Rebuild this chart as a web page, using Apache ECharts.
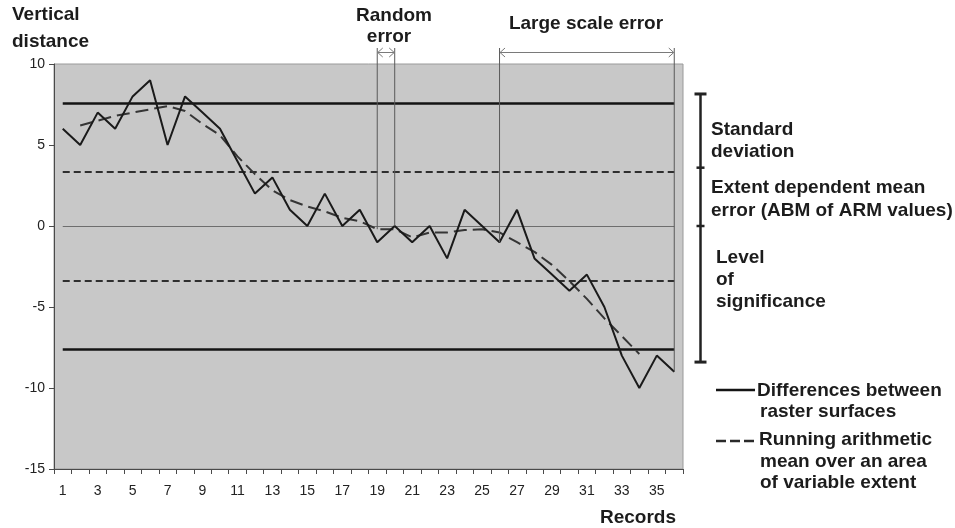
<!DOCTYPE html>
<html>
<head>
<meta charset="utf-8">
<script src="https://cdn.jsdelivr.net/npm/echarts@6/dist/echarts.min.js"></script>
<style>
  html, body { margin: 0; padding: 0; background: #ffffff; }
  #chart { width: 955px; height: 528px; }
</style>
</head>
<body>
<div id="chart"></div>
<script>
// Record numbers along the horizontal axis
const records = ['1','2','3','4','5','6','7','8','9','10','11','12','13','14','15','16','17','18',
                 '19','20','21','22','23','24','25','26','27','28','29','30','31','32','33','34','35','36'];

// Differences between raster surfaces (vertical distance per record)
const differences = [6, 5, 7, 6, 8, 9, 5, 8, 7, 6, 4, 2, 3, 1, 0, 2, 0, 1,
                     -1, 0, -1, 0, -2, 1, 0, -1, 1, -2, -3, -4, -3, -5, -8, -10, -8, -9];

// Running arithmetic mean over an area of variable extent
const runningMean = [null, 6.2, 6.5, 6.8, 7.0, 7.2, 7.4, 7.1, 6.3, 5.6, 4.3, 3.2, 2.2, 1.6, 1.2, 0.9, 0.5, 0.3,
                     -0.2, -0.2, -0.7, -0.4, -0.4, -0.25, -0.2, -0.4, -1.0, -1.6, -2.4, -3.4, -4.5, -5.7, -6.8, -7.9, null, null];

// Horizontal reference levels
const standardDeviationLevels = [7.6, -7.6];
const meanErrorLevels = [3.35, -3.35];
const zeroLevel = 0;

// Vertical axis range
const yMin = -15, yMax = 10, yStep = 5;

// Error spans marked above the plot (record numbers)
const randomErrorRecords = ['19', '20'];
const largeScaleRecords = ['26', '36'];

// Bracket on the right: end values and intermediate ticks
const bracketEnds = [8.15, -8.4];
const bracketTicks = [3.6, 0];

const FONT = '"Liberation Sans", Arial, Helvetica, sans-serif';
const BOLD = 'bold 19px ' + FONT;
const TEXT_COLOR = '#1c1c1c';

const chart = echarts.init(document.getElementById('chart'), null, { renderer: 'canvas' });

function levelLine(value, style) {
  return [
    { coord: [records[0], value], lineStyle: style },
    { coord: [records[records.length - 1], value] }
  ];
}

const solidRef = { color: '#141414', width: 2.5, type: 'solid' };
const dashedRef = { color: '#2e2e2e', width: 2, type: [7, 4] };
const zeroRef = { color: '#6e6e6e', width: 1, type: 'solid' };

chart.setOption({
  animation: false,
  backgroundColor: '#ffffff',
  grid: {
    left: 54, top: 64, width: 629, height: 405,
    show: true, backgroundColor: '#c8c8c8', borderColor: '#9a9a9a', borderWidth: 1
  },
  xAxis: {
    type: 'category',
    data: records,
    boundaryGap: true,
    axisLine: { show: true, onZero: false, lineStyle: { color: '#4a4a4a', width: 1 } },
    axisTick: { show: true, interval: 0, length: 5, lineStyle: { color: '#4a4a4a' } },
    axisLabel: { interval: 1, fontSize: 14, color: '#222', margin: 15, fontFamily: FONT },
    splitLine: { show: false }
  },
  yAxis: {
    type: 'value',
    min: yMin, max: yMax, interval: yStep,
    axisLine: { show: true, lineStyle: { color: '#4a4a4a', width: 1 } },
    axisTick: { show: true, length: 5, lineStyle: { color: '#4a4a4a' } },
    axisLabel: { fontSize: 14, color: '#222', margin: 9, fontFamily: FONT },
    splitLine: { show: false }
  },
  series: [
    {
      name: 'Differences between raster surfaces',
      type: 'line',
      data: differences,
      symbol: 'none',
      z: 3,
      lineStyle: { color: '#1a1a1a', width: 2 },
      markLine: {
        silent: true,
        symbol: ['none', 'none'],
        label: { show: false },
        z: 1,
        data: [
          levelLine(zeroLevel, zeroRef),
          levelLine(standardDeviationLevels[0], solidRef),
          levelLine(standardDeviationLevels[1], solidRef),
          levelLine(meanErrorLevels[0], dashedRef),
          levelLine(meanErrorLevels[1], dashedRef)
        ]
      }
    },
    {
      name: 'Running arithmetic mean over an area of variable extent',
      type: 'line',
      data: runningMean,
      symbol: 'none',
      z: 2,
      lineStyle: { color: '#353535', width: 2, type: [13, 6] }
    }
  ]
});

// Annotation graphics positioned through the chart's own coordinate system
function px(rec, val) { return chart.convertToPixel({ gridIndex: 0 }, [rec, val]); }

const topY = px(records[0], yMax)[1];
const lineTopY = topY - 16;
const arrowY = topY - 11.5;

function text(str, x, y, align, font) {
  return {
    type: 'text', z: 10,
    style: {
      text: str, x: x, y: y, font: font || BOLD, fill: TEXT_COLOR,
      align: align || 'left', verticalAlign: 'middle',
      textAlign: align || 'left', textVerticalAlign: 'middle'
    }
  };
}
function seg(x1, y1, x2, y2, stroke, width, dash) {
  return {
    type: 'line', z: 9,
    shape: { x1: x1, y1: y1, x2: x2, y2: y2 },
    style: { stroke: stroke, lineWidth: width, lineDash: dash || null }
  };
}
function chevron(x, y, dir, color) {
  return {
    type: 'polyline', z: 9,
    shape: { points: [[x - dir * 5, y - 4.5], [x, y], [x - dir * 5, y + 4.5]] },
    style: { stroke: color, lineWidth: 1, fill: null }
  };
}
function span(recs, ends) {
  const a = px(recs[0], ends[0]);
  const b = px(recs[1], ends[1]);
  const c = '#5a5a5a';
  return [
    seg(a[0], lineTopY, a[0], a[1], c, 1),
    seg(b[0], lineTopY, b[0], b[1], c, 1),
    seg(a[0] + 0.5, arrowY, b[0] - 0.5, arrowY, '#7a7a7a', 1),
    chevron(a[0] + 0.5, arrowY, -1, '#7a7a7a'),
    chevron(b[0] - 0.5, arrowY, 1, '#7a7a7a')
  ];
}

const ri = records.indexOf(randomErrorRecords[0]);
const ri2 = records.indexOf(randomErrorRecords[1]);
const li = records.indexOf(largeScaleRecords[0]);
const li2 = records.indexOf(largeScaleRecords[1]);

const graphics = [];
graphics.push(...span(randomErrorRecords, [runningMean[ri], differences[ri2]]));
graphics.push(...span(largeScaleRecords, [differences[li], differences[li2]]));

// Bracket on the right
const bx = 700.5;
const bTop = px(records[0], bracketEnds[0])[1];
const bBot = px(records[0], bracketEnds[1])[1];
graphics.push(seg(bx, bTop, bx, bBot, '#222', 2.5));
graphics.push(seg(bx - 6, bTop, bx + 6, bTop, '#222', 3));
graphics.push(seg(bx - 6, bBot, bx + 6, bBot, '#222', 3));
bracketTicks.forEach(v => {
  const y = px(records[0], v)[1];
  graphics.push(seg(bx - 4, y, bx + 4, y, '#222', 2.5));
});

// Titles and labels
graphics.push(text('Vertical', 12, 15));
graphics.push(text('distance', 12, 42));
graphics.push(text('Random', 394, 16, 'center'));
graphics.push(text('error', 389, 37, 'center'));
graphics.push(text('Large scale error', 586, 24, 'center'));

graphics.push(text('Standard', 711, 130));
graphics.push(text('deviation', 711, 152));
graphics.push(text('Extent dependent mean', 711, 188));
graphics.push(text('error (ABM of ARM values)', 711, 211));
graphics.push(text('Level', 716, 258));
graphics.push(text('of', 716, 280));
graphics.push(text('significance', 716, 302));

// Legend
graphics.push(seg(716, 390, 755, 390, '#141414', 2.5));
graphics.push(text('Differences between', 757, 391));
graphics.push(text('raster surfaces', 760, 412));
graphics.push(seg(716, 441, 757, 441, '#2a2a2a', 2.5, [10, 4]));
graphics.push(text('Running arithmetic', 759, 440));
graphics.push(text('mean over an area', 760, 462));
graphics.push(text('of variable extent', 760, 483));

graphics.push(text('Records', 676, 518, 'right'));

chart.setOption({ graphic: { elements: graphics } });
</script>
</body>
</html>
